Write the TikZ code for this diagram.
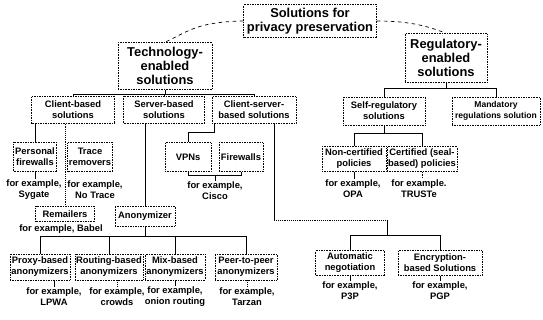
\documentclass[tikz,border=0pt]{standalone}
\usepackage{fontspec}
\setmainfont{Liberation Sans}
\usetikzlibrary{calc}
\newcommand{\pxu}{0.3mm}

\begin{document}
\begin{tikzpicture}[x=0.3mm, y=-0.3mm,
      every node/.style={font=\fontsize{8}{9.4}\selectfont\bfseries, align=center},
      big/.style={
        draw, densely dotted, inner sep=1pt,
        font=\fontsize{11}{12}\selectfont\bfseries
      },
      sol/.style={draw, densely dotted, inner sep=1pt},
      ex/.style={inner sep=1pt},
      link/.style={line width=0.6pt},
      weak/.style={line width=0.6pt, densely dotted}
    ]
    \useasboundingbox (0,0) rectangle (543,320);

    % top levels
    \node[big, minimum width=133*\pxu, minimum height=33*\pxu] (root) at (310,21) {Solutions for\\privacy preservation};
    \node[big, minimum width=94*\pxu, minimum height=47*\pxu] (tech) at (165,66) {Technology-\\enabled\\solutions};
    \node[big, minimum width=82*\pxu, minimum height=49*\pxu] (reg) at (446,58) {Regulatory-\\enabled\\solutions};

    % technology branch
    \node[sol, minimum width=83*\pxu, minimum height=27*\pxu] (client) at (73,110) {Client-based\\solutions};
    \node[sol, minimum width=81*\pxu, minimum height=27*\pxu] (server) at (164,110) {Server-based\\solutions};
    \node[sol, minimum width=84*\pxu, minimum height=27*\pxu] (cs) at (254,110) {Client-server-\\based solutions};

    \node[sol, minimum width=43*\pxu, minimum height=29*\pxu] (pfw) at (35,157) {Personal\\firewalls};
    \node[sol, minimum width=45*\pxu, minimum height=29*\pxu] (trace) at (90,157) {Trace\\removers};
    \node[ex] (sygate) at (34,190) {for example,\\Sygate};
    \node[ex] (notrace) at (95,190) {for example,\\No Trace};
    \node[sol, minimum width=59*\pxu, minimum height=15*\pxu] (rem) at (65,214) {Remailers};
    \node[ex, inner sep=0pt] (babel) at (61,229) {for example, Babel};

    \node[sol, minimum width=60*\pxu, minimum height=20*\pxu] (anon) at (145,216) {Anonymizer};
    \node[sol, minimum width=60*\pxu, minimum height=26*\pxu] (proxy) at (40,267) {Proxy-based\\anonymizers};
    \node[sol, minimum width=66*\pxu, minimum height=26*\pxu] (routing) at (109,267) {Routing-based\\anonymizers};
    \node[sol, minimum width=59*\pxu, minimum height=26*\pxu] (mix) at (175,267) {Mix-based\\anonymizers};
    \node[sol, minimum width=62*\pxu, minimum height=26*\pxu] (peer) at (246,267) {Peer-to-peer\\anonymizers};
    \node[ex] (lpwa) at (54,297) {for example,\\LPWA};
    \node[ex] (crowds) at (117,297) {for example,\\crowds};
    \node[ex] (onion) at (175,297) {for example,\\onion routing};
    \node[ex] (tarzan) at (247,297) {for example,\\Tarzan};

    \node[sol, minimum width=46*\pxu, minimum height=29*\pxu] (vpn) at (188,157) {VPNs};
    \node[sol, minimum width=44*\pxu, minimum height=29*\pxu] (fw) at (241,157) {Firewalls};
    \node[ex] (cisco) at (215,191) {for example,\\Cisco};

    \node[sol, minimum width=69*\pxu, minimum height=25*\pxu] (auto) at (350,263) {Automatic\\negotiation};
    \node[sol, minimum width=84*\pxu, minimum height=25*\pxu] (enc) at (440,263) {Encryption-\\based Solutions};
    \node[ex] (p3p) at (350,291) {for example,\\P3P};
    \node[ex] (pgp) at (440,291) {for example,\\PGP};

    % regulatory branch
    \node[sol, minimum width=82*\pxu, minimum height=28*\pxu] (self) at (384,111) {Self-regulatory\\solutions};
    \node[sol, minimum width=88*\pxu, minimum height=28*\pxu, inner sep=0.5pt,
      font=\fontsize{7.3}{9.4}\selectfont\bfseries] (mand) at (496,111) {Mandatory\\regulations solution};
    \node[sol, minimum width=64*\pxu, minimum height=25*\pxu] (noncert) at (354,159) {Non-certified\\policies};
    \node[sol, minimum width=66*\pxu, minimum height=25*\pxu] (cert) at (422,159) {Certified (seal-\\based) policies};
    \node[ex] (opa) at (353,189) {for example,\\OPA};
    \node[ex] (truste) at (419,189) {for example.\\TRUSTe};

    % connectors
    \draw[link, dashed] (root.west) .. controls +(-45,1) and +(25,-12) .. (tech.north);
    \draw[link, dashed] (root.east) .. controls +(30,0) and +(-20,-8) .. (reg.north);

    \draw[link] (tech.south) -- ++(0,5) -| (client.north);
    \draw[link] (tech.south) -- ++(0,5) -| (server.north);
    \draw[link] (tech.south) -- ++(0,5) -| (cs.north);

    \draw[link] (pfw.north |- client.south) -- (pfw.north);
    \draw[link] (pfw.south) -- (pfw.south |- sygate.north);
    \draw[weak] (rem.north |- client.south) -- (rem.north);

    \draw[link] (anon.north |- server.south) -- (anon.north);
    \draw[link] (anon.south) -- ++(0,10) -| (proxy.north);
    \draw[link] (anon.south) -- ++(0,10) -| (routing.north);
    \draw[link] (anon.south) -- ++(0,10) -| (mix.north);
    \draw[link] (anon.south) -- ++(0,10) -| (peer.north);
    \draw[link] (lpwa.north |- proxy.south) -- (lpwa.north);
    \draw[weak] (crowds.north |- routing.south) -- (crowds.north);
    \draw[link] (onion.north |- mix.south) -- (onion.north);
    \draw[weak] (tarzan.north |- peer.south) -- (tarzan.north);

    \draw[link] (vpn.north) -- ++(0,-10) -| ($(cs.south west)+(3,0)$);
    \draw[link] (vpn.south) -- ++(0,4) coordinate (vj) -| (fw.south);
    \draw[link] (cisco.north) -- (cisco.north |- vj);

    \draw[link] ($(cs.south east)+(-22,0)$) -- ++(0,97) coordinate (cj);
    \coordinate (ej) at ($(auto.north)!0.42!(enc.north)+(0,-15)$);
    \draw[weak] (cj) -- (cj -| ej);
    \draw[link] (cj -| ej) -- (ej);
    \draw[link] (auto.north) |- (ej) -| (enc.north);
    \draw[link] (auto.south) -- (p3p.north);
    \draw[link] (enc.south) -- (pgp.north);

    \draw[link] (reg.south) -- ++(0,6) -| (self.north);
    \draw[link] (reg.south) -- ++(0,6) -| (mand.north);
    \draw[link] (self.south) -- ++(0,8) -| (noncert.north);
    \draw[link] (self.south) -- ++(0,8) -| (cert.north);
    \draw[link] (noncert.south) -- (noncert.south |- opa.north);
    \draw[weak] (cert.south) -- (cert.south |- truste.north);
  \end{tikzpicture}
\end{document}
